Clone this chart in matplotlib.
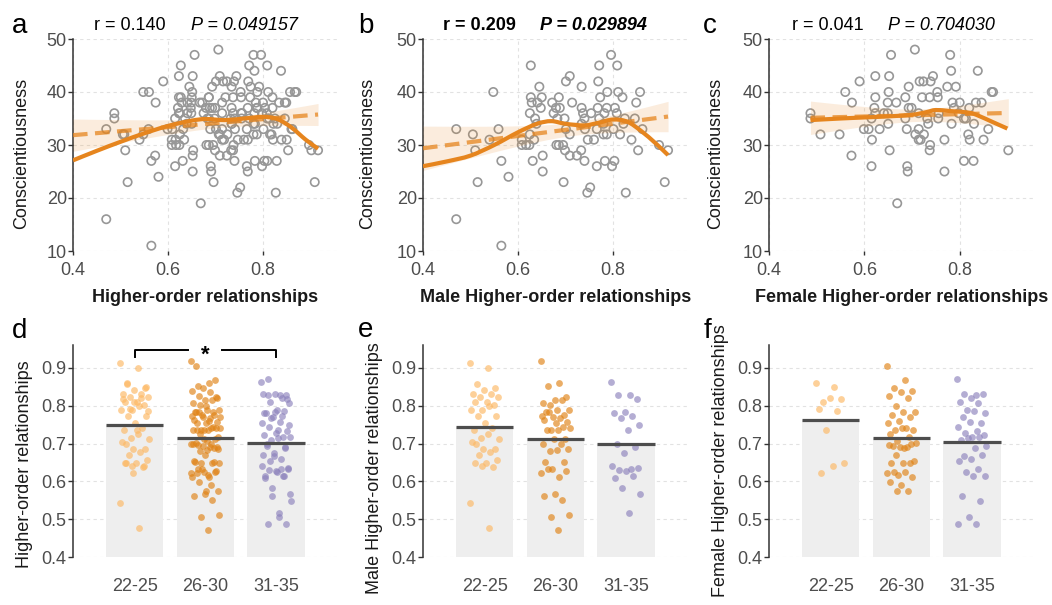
import numpy as np
import matplotlib
matplotlib.use("Agg")
import matplotlib.pyplot as plt
from matplotlib.path import Path
from matplotlib.patches import PathPatch

plt.rcParams['font.family'] = ['Liberation Sans', 'DejaVu Sans']

# ---------------- data ----------------
male_hor = [0.470, 0.470, 0.505, 0.510, 0.515, 0.548, 0.540, 0.559, 0.565, 0.565, 0.580,
            0.608, 0.608, 0.617, 0.624, 0.627, 0.645, 0.627, 0.629, 0.641, 0.650, 0.648,
            0.625, 0.636, 0.639, 0.625, 0.634, 0.631, 0.652, 0.652,
            0.672, 0.675, 0.680, 0.683, 0.686, 0.688, 0.681, 0.686, 0.695, 0.696,
            0.701, 0.709, 0.698, 0.701, 0.709, 0.709, 0.714, 0.734, 0.769, 0.773,
            0.788, 0.811, 0.820, 0.857, 0.849, 0.734, 0.737, 0.754, 0.768, 0.787,
            0.804, 0.782, 0.808, 0.740, 0.771, 0.846, 0.734, 0.780, 0.822, 0.825,
            0.741, 0.766, 0.801, 0.862, 0.780, 0.787, 0.815, 0.747, 0.760, 0.839,
            0.699, 0.733, 0.853, 0.724, 0.740, 0.783, 0.803, 0.766, 0.798,
            0.752, 0.746, 0.827, 0.897, 0.916, 0.909, 0.796, 0.771, 0.809]
male_con = [33, 16, 32, 29, 23, 40, 31, 33, 27, 11, 24,
            31, 30, 30, 30, 45, 41, 39, 38, 38, 39, 37,
            36, 35, 34, 32, 31, 27, 28, 25,
            38, 36, 37, 35, 39, 37, 30, 30, 30, 23,
            42, 43, 35, 33, 28, 32, 38, 41, 42, 39,
            40, 40, 39, 40, 38, 37, 36, 36, 37, 37,
            37, 36, 36, 35, 35, 35, 34, 34, 34, 35,
            33, 33, 33, 33, 32, 32, 32, 31, 31, 31,
            29, 29, 29, 28, 27, 27, 27, 26, 26,
            22, 21, 21, 30, 29, 23, 47, 45, 45]

female_hor = [0.487, 0.487, 0.508, 0.548, 0.560, 0.574, 0.573, 0.590, 0.599, 0.609,
              0.616, 0.615, 0.623, 0.623, 0.621, 0.623, 0.615, 0.632, 0.641, 0.649,
              0.649, 0.651, 0.652, 0.656, 0.650, 0.653, 0.667, 0.669, 0.686, 0.686,
              0.689, 0.690, 0.691, 0.693, 0.706, 0.693, 0.699, 0.707, 0.714, 0.718,
              0.725, 0.737, 0.738, 0.716, 0.724, 0.739, 0.744, 0.721, 0.737, 0.753,
              0.754, 0.732, 0.734, 0.755, 0.756, 0.768, 0.768, 0.774, 0.792, 0.780,
              0.782, 0.785, 0.800, 0.783, 0.788, 0.798, 0.809, 0.809, 0.813, 0.820,
              0.818, 0.821, 0.830, 0.829, 0.834, 0.846, 0.838, 0.850, 0.860, 0.867,
              0.870, 0.902, 0.714, 0.714]
female_con = [36, 35, 32, 32, 40, 38, 28, 42, 33, 33,
              31, 26, 43, 39, 37, 36, 35, 33, 36, 36,
              38, 40, 43, 47, 34, 29, 38, 19, 39, 35,
              33, 26, 25, 41, 48, 37, 37, 32, 31, 31,
              32, 29, 30, 42, 42, 42, 43, 39, 39, 40,
              39, 35, 34, 35, 36, 31, 25, 41, 41, 47,
              44, 38, 38, 34, 37, 36, 35, 27, 35, 37,
              32, 31, 34, 27, 38, 38, 44, 31, 33, 40,
              40, 29, 36, 33]

# loess smooth curves (x, fitted conscientiousness)
smooth_x_all = [0.40, 0.45, 0.50, 0.55, 0.60, 0.65, 0.68, 0.72, 0.76, 0.80, 0.83, 0.86, 0.89, 0.916]
smooth_y_all = [27.1, 28.9, 30.6, 32.2, 33.6, 34.6, 34.9, 34.7, 35.0, 35.3, 34.9, 33.3, 31.0, 29.3]
smooth_x_male = [0.40, 0.45, 0.50, 0.55, 0.60, 0.64, 0.67, 0.70, 0.74, 0.77, 0.80, 0.83, 0.86,
                 0.89, 0.916]
smooth_y_male = [26.0, 26.9, 28.0, 30.0, 32.4, 34.0, 34.5, 34.0, 33.7, 34.2, 34.8, 34.4, 32.6,
                 30.3, 28.1]
smooth_x_female = [0.487, 0.55, 0.60, 0.65, 0.70, 0.73, 0.75, 0.78, 0.82, 0.84, 0.87, 0.90]
smooth_y_female = [34.7, 35.0, 35.2, 35.4, 35.7, 36.2, 36.6, 36.4, 36.1, 35.5, 34.3, 33.1]

age_groups = ["22-25", "26-30", "31-35"]
male_22_25 = [0.913, 0.899, 0.856, 0.847, 0.840, 0.830, 0.830, 0.824, 0.823, 0.810, 0.809, 0.803,
              0.789, 0.788, 0.799, 0.773, 0.774, 0.755, 0.737, 0.740, 0.715, 0.711, 0.724, 0.698,
              0.685, 0.685, 0.705, 0.677, 0.669, 0.657, 0.650, 0.649, 0.637, 0.641, 0.542, 0.476]
male_26_30 = [0.918, 0.859, 0.852, 0.822, 0.814, 0.806, 0.814, 0.802, 0.789, 0.788, 0.782,
              0.775, 0.771, 0.773, 0.768, 0.784, 0.758, 0.755, 0.762, 0.743, 0.735, 0.742,
              0.736, 0.736, 0.713, 0.713, 0.700, 0.700, 0.681, 0.685, 0.683, 0.652, 0.652,
              0.632, 0.623, 0.611, 0.632, 0.628, 0.567, 0.562, 0.550, 0.507, 0.512, 0.472]
male_31_35 = [0.863, 0.828, 0.827, 0.817, 0.783, 0.781, 0.773, 0.767, 0.749, 0.737, 0.700, 0.691,
              0.675, 0.641, 0.634, 0.629, 0.636, 0.628, 0.610, 0.614, 0.582, 0.567, 0.516]
female_22_25 = [0.860, 0.850, 0.810, 0.818, 0.820, 0.792, 0.786, 0.737, 0.650, 0.642, 0.623]
female_26_30 = [0.904, 0.867, 0.847, 0.839, 0.835, 0.826, 0.819, 0.800, 0.784, 0.783, 0.775,
                0.769, 0.760, 0.753, 0.740, 0.737, 0.736, 0.740, 0.725, 0.718, 0.707, 0.701,
                0.687, 0.694, 0.698, 0.690, 0.695, 0.690, 0.670, 0.654, 0.650, 0.650, 0.650,
                0.617, 0.623, 0.624, 0.624, 0.611, 0.592, 0.599, 0.575, 0.575]
female_31_35 = [0.870, 0.828, 0.832, 0.830, 0.821, 0.810, 0.806, 0.788, 0.780, 0.786, 0.770, 0.753,
                0.756, 0.744, 0.734, 0.727, 0.722, 0.718, 0.709, 0.717, 0.715, 0.694, 0.687, 0.667,
                0.670, 0.658, 0.654, 0.633, 0.624, 0.615, 0.615, 0.561, 0.548, 0.507, 0.487, 0.487]

r_labels = ["r = 0.140", "r = 0.209", "r = 0.041"]
p_labels = ["P = 0.049157", "P = 0.029894", "P = 0.704030"]
top_xlabels = ["Higher-order relationships", "Male Higher-order relationships",
               "Female Higher-order relationships"]
bottom_ylabels = ["Higher-order relationships", "Male Higher-order relationships",
                  "Female Higher-order relationships"]

# ---------------- style ----------------
ORANGE = "#E6851E"
GROUP_COLORS = ["#FDB863", "#E08214", "#8C82BC"]
TICK_C = "#4D4D4D"
GRID_KW = dict(color="#E2E2E2", linestyle=(0, (3, 3)), linewidth=0.8)
FS = 13

W, H = 1052, 605
fig = plt.figure(figsize=(W / 100, H / 100), dpi=100)


def add_ax(left, top, right, bottom):
    return fig.add_axes([left / W, 1 - bottom / H, (right - left) / W, (bottom - top) / H])


def smooth_curve(ax, xs, ys, **kw):
    """Draw a curve through the given points using Catmull-Rom style Bezier segments."""
    p = np.column_stack([xs, ys]).astype(float)
    verts = [p[0]]
    codes = [Path.MOVETO]
    n = len(p)
    for k in range(n - 1):
        p0 = p[k - 1] if k > 0 else p[k]
        p1, p2 = p[k], p[k + 1]
        p3 = p[k + 2] if k + 2 < n else p[k + 1]
        c1 = p1 + (p2 - p0) / 6.0
        c2 = p2 - (p3 - p1) / 6.0
        verts += [c1, c2, p2]
        codes += [Path.CURVE4] * 3
    ax.add_patch(PathPatch(Path(verts, codes), fill=False, **kw))


def base_style(ax):
    for s in ["top", "right", "bottom"]:
        ax.spines[s].set_visible(False)
    ax.spines["left"].set_color("#333333")
    ax.spines["left"].set_linewidth(1.1)
    ax.tick_params(axis="y", length=3.5, width=1, color="#333333",
                   labelsize=FS, labelcolor=TICK_C, pad=1)
    ax.grid(True, **GRID_KW)
    ax.set_axisbelow(True)


# ---------------- top row ----------------
all_hor = np.array(male_hor + female_hor)
all_con = np.array(male_con + female_con)
top_data = [(all_hor, all_con, True, smooth_x_all, smooth_y_all),
            (np.array(male_hor), np.array(male_con), True, smooth_x_male, smooth_y_male),
            (np.array(female_hor), np.array(female_con), False, smooth_x_female, smooth_y_female)]
top_boxes = [(73, 39, 338, 251), (423, 39, 688, 251), (769, 39, 1035, 251)]
ylab_off = [-0.162, -0.177, -0.17]

for i, ((x, y, full, sx, sy), box) in enumerate(zip(top_data, top_boxes)):
    ax = add_ax(*box)
    base_style(ax)
    ax.set_xlim(0.4, 0.958)
    ax.set_ylim(10, 50)
    ax.set_xticks([0.4, 0.6, 0.8])
    ax.set_yticks([10, 20, 30, 40, 50])
    ax.tick_params(axis="x", length=3, width=1, color="#333333",
                   labelsize=FS, labelcolor=TICK_C, pad=5)
    ax.scatter(x, y, s=36, facecolor="none", edgecolor="#979797", linewidth=1.2, zorder=2)

    xs = np.linspace(0.4 if full else x.min(), x.max(), 120)
    b1, b0 = np.polyfit(x, y, 1)
    n = len(x)
    resid = y - (b0 + b1 * x)
    s = np.sqrt(np.sum(resid ** 2) / (n - 2))
    se = s * np.sqrt(1 / n + (xs - x.mean()) ** 2 / np.sum((x - x.mean()) ** 2))
    fit = b0 + b1 * xs
    ax.fill_between(xs, fit - 1.98 * se, fit + 1.98 * se, color=ORANGE, alpha=0.15,
                    linewidth=0, zorder=3)
    ax.plot(xs, fit, color=ORANGE, alpha=0.75, linewidth=3, linestyle=(0, (3.5, 1.8)),
            zorder=4)
    smooth_curve(ax, sx, sy, edgecolor=ORANGE, linewidth=3, zorder=5, capstyle="butt",
                 joinstyle="round")

    bold = "bold" if i == 1 else "normal"
    ax.text([0.079, 0.077, 0.085][i], 1.066, r_labels[i], transform=ax.transAxes,
            fontsize=FS, fontweight=bold, va="center", ha="left")
    ax.text([0.445, 0.44, 0.449][i], 1.066, p_labels[i], transform=ax.transAxes,
            fontsize=FS, fontweight=bold, style="italic", va="center", ha="left")
    ax.set_ylabel("Conscientiousness", fontsize=FS, color="#1A1A1A")
    ax.yaxis.set_label_coords(ylab_off[i], 0.46)
    ax.set_xlabel(top_xlabels[i], fontsize=FS, fontweight="bold", color="#1A1A1A")
    ax.xaxis.set_label_coords(0.5, -0.218)
    ax.xaxis.label.set_va("center")

# ---------------- bottom row ----------------
groups_male = [male_22_25, male_26_30, male_31_35]
groups_female = [female_22_25, female_26_30, female_31_35]
groups_all = [m + f for m, f in zip(groups_male, groups_female)]
bottom_sets = [groups_all, groups_male, groups_female]
bottom_boxes = [(72.7, 345, 338, 557.3), (422.7, 345, 688, 557.3), (768.7, 345, 1034, 557.3)]
ylab_y = [0.44, 0.42, 0.454]

for i, (groups, box) in enumerate(zip(bottom_sets, bottom_boxes)):
    ax = add_ax(*box)
    base_style(ax)
    ax.grid(False, axis="x")
    ax.set_xlim(0.123, 3.877)
    ax.set_ylim(0.4, 0.96)
    ax.set_yticks([0.4, 0.5, 0.6, 0.7, 0.8, 0.9])
    ax.set_yticklabels([f"{v:.1f}" for v in [0.4, 0.5, 0.6, 0.7, 0.8, 0.9]])
    ax.set_xticks([1, 2, 3])
    ax.set_xticklabels(age_groups)
    ax.tick_params(axis="x", length=0, labelsize=FS, labelcolor=TICK_C, pad=15)
    for g, vals in enumerate(groups):
        vals = np.array(vals)
        pos = g + 1
        m = vals.mean()
        ax.bar(pos, m - 0.4, bottom=0.4, width=0.81, color="#EEEEEE", zorder=1)
        jit = ((np.arange(len(vals)) * 0.6180339887) % 1 - 0.5) * 0.42
        ax.scatter(pos + jit, vals, s=24, color=GROUP_COLORS[g], alpha=0.65,
                   linewidth=0, zorder=3)
        ax.plot([pos - 0.405, pos + 0.405], [m, m], color="#4D4D4D", linewidth=2.3,
                zorder=4, solid_capstyle="butt")
    ax.set_ylabel(bottom_ylabels[i], fontsize=FS, color="#1A1A1A")
    ax.yaxis.set_label_coords(-0.151, ylab_y[i])
    if i == 0:
        ax.plot([1, 1, 1.76], [0.929, 0.948, 0.948], color="black", linewidth=1.4,
                clip_on=False, zorder=5)
        ax.plot([2.24, 3, 3], [0.948, 0.948, 0.929], color="black", linewidth=1.4,
                clip_on=False, zorder=5)
        ax.text(2, 0.918, "*", ha="center", va="baseline", fontsize=16,
                fontweight="bold", clip_on=False)

# panel letters
for lab, xp, yp in [("a", 12, 33), ("b", 358, 33), ("c", 703, 33),
                    ("d", 12, 338), ("e", 358, 337), ("f", 704, 338)]:
    fig.text(xp / W, 1 - yp / H, lab, fontsize=20, va="baseline", ha="left")

fig.savefig("out.png", dpi=100)
